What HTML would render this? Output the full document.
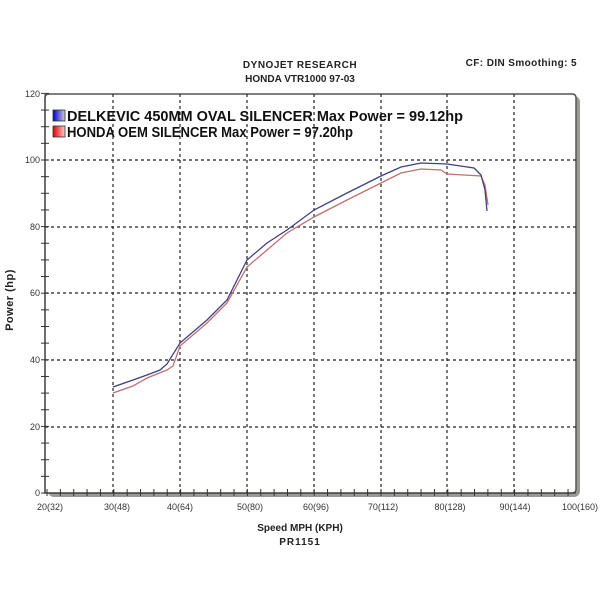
<!DOCTYPE html>
<html><head><style>body{margin:0;background:#fff}svg{display:block}</style></head><body>
<svg width="600" height="600" xmlns="http://www.w3.org/2000/svg" font-family="Liberation Sans, sans-serif">
<rect width="600" height="600" fill="#fff"/>
<text x="300" y="68" font-size="10" font-weight="bold" text-anchor="middle" fill="#222" letter-spacing="0.5">DYNOJET RESEARCH</text>
<text x="300" y="82" font-size="10" font-weight="bold" text-anchor="middle" fill="#222">HONDA VTR1000 97-03</text>
<text x="577" y="66" font-size="10" font-weight="bold" text-anchor="end" fill="#222" letter-spacing="0.4">CF: DIN  Smoothing: 5</text>
<rect x="48" y="96" width="532" height="401" rx="6" fill="#9a9a94"/>
<path d="M45 98 Q45 94 49 94 L572 94 Q576 94 576 98 L576 489 Q576 493 572 493 L45 493 Z" fill="#fff" stroke="#555" stroke-width="1.5"/>
<g stroke="#222" stroke-width="1.2" stroke-dasharray="3,3">
<line x1="45" x2="576" y1="160" y2="160"/><line x1="45" x2="576" y1="227" y2="227"/><line x1="45" x2="576" y1="293" y2="293"/><line x1="45" x2="576" y1="360" y2="360"/><line x1="45" x2="576" y1="427" y2="427"/>
<line x1="113" x2="113" y1="94" y2="493"/><line x1="180" x2="180" y1="94" y2="493"/><line x1="247" x2="247" y1="94" y2="493"/><line x1="314" x2="314" y1="94" y2="493"/><line x1="381" x2="381" y1="94" y2="493"/><line x1="447" x2="447" y1="94" y2="493"/><line x1="514" x2="514" y1="94" y2="493"/>
</g>
<g stroke="#333" stroke-width="1">
<line x1="45" y1="94" x2="45" y2="493"/><line x1="45" y1="493" x2="576" y2="493"/>
</g>
<g stroke="#333" stroke-width="1" id="yt"></g>
<g font-size="9" fill="#333" text-anchor="end">
<text x="40" y="97">120</text><text x="40" y="163">100</text><text x="40" y="230">80</text><text x="40" y="296">60</text><text x="40" y="363">40</text><text x="40" y="430">20</text><text x="40" y="496">0</text>
</g>
<g font-size="9" fill="#333" text-anchor="middle">
<text x="50" y="510">20(32)</text><text x="117" y="510">30(48)</text><text x="180" y="510">40(64)</text><text x="250" y="510">50(80)</text><text x="316" y="510">60(96)</text><text x="383" y="510">70(112)</text><text x="450" y="510">80(128)</text><text x="515" y="510">90(144)</text><text x="580" y="510">100(160)</text>
</g>
<text x="300" y="531" font-size="10" font-weight="bold" text-anchor="middle" fill="#222">Speed MPH (KPH)</text>
<text x="300" y="545" font-size="10" font-weight="bold" text-anchor="middle" fill="#222" letter-spacing="1">PR1151</text>
<text transform="translate(13,300) rotate(-90)" font-size="11" font-weight="bold" text-anchor="middle" fill="#222" letter-spacing="0.5">Power (hp)</text>
<defs>
<linearGradient id="gb" x1="0" x2="1"><stop offset="0" stop-color="#00c"/><stop offset="1" stop-color="#ccd"/></linearGradient>
<linearGradient id="gr" x1="0" x2="1"><stop offset="0" stop-color="#d00"/><stop offset="1" stop-color="#fcc"/></linearGradient>
</defs>
<rect x="53" y="110" width="12" height="11" fill="url(#gb)" stroke="#333" stroke-width="0.8"/>
<rect x="53" y="126" width="12" height="11" fill="url(#gr)" stroke="#333" stroke-width="0.8"/>
<text x="67" y="121" font-size="14.5" font-weight="bold" fill="#111" textLength="396" lengthAdjust="spacingAndGlyphs">DELKEVIC 450MM OVAL SILENCER Max Power = 99.12hp</text>
<text x="67" y="137" font-size="14.5" font-weight="bold" fill="#111" textLength="286" lengthAdjust="spacingAndGlyphs">HONDA OEM SILENCER Max Power = 97.20hp</text>
<polyline fill="none" stroke="#c07070" stroke-width="1.3" points="113,393 133,386 147,378 167,370 173,366 180,346 207,323 227,303 247,267 267,250 287,233 314,217 347,200 381,183 401,173 421,169 441,170 447,174 481,176 485,185 488,205"/>
<polyline fill="none" stroke="#404080" stroke-width="1.3" points="113,387 133,380 147,375 160,370 167,364 180,343 207,320 227,300 247,260 267,243 287,230 314,210 347,193 381,176 401,167 421,163 447,164 474,168 481,175 485,190 487,211"/>
</svg>
<script>
(function(){var g=document.getElementById('yt'),n='http://www.w3.org/2000/svg';
for(var i=0;i<=24;i++){var y=493-i*16.65,l=document.createElementNS(n,'line');l.setAttribute('x1',41);l.setAttribute('x2',49);l.setAttribute('y1',y);l.setAttribute('y2',y);g.appendChild(l);}
for(var j=0;j<=40;j++){var x=47+j*6.68*2;if(x>574)break;var k=document.createElementNS(n,'line');k.setAttribute('x1',x);k.setAttribute('x2',x);k.setAttribute('y1',489);k.setAttribute('y2',496);g.appendChild(k);}})();
</script>
</body></html>
